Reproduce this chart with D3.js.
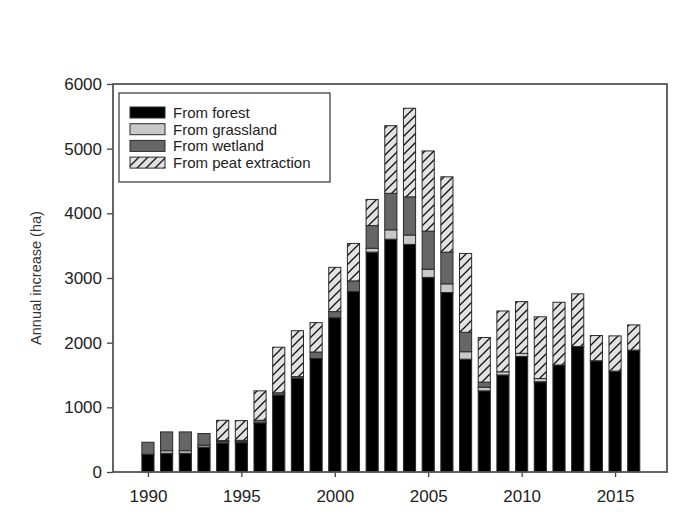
<!DOCTYPE html>
<html>
<head>
<meta charset="utf-8">
<script src="https://cdn.jsdelivr.net/npm/d3@7"></script>
<style>
  body { margin: 0; background: #fff; }
  svg { font-family: "Liberation Sans", Arial, sans-serif; }
</style>
</head>
<body>
<svg id="chart"></svg>
<script>
const years = d3.range(1990, 2017);
const forest = [275, 290, 290, 385, 450, 455, 760, 1190, 1450, 1755, 2385, 2790, 3400, 3600, 3520, 3010, 2775, 1745, 1255, 1500, 1785, 1395, 1655, 1940, 1720, 1560, 1885];
const grassland = [0, 40, 40, 30, 20, 20, 0, 0, 0, 0, 0, 0, 60, 145, 145, 125, 135, 115, 55, 50, 50, 50, 0, 0, 0, 0, 0];
const wetland = [185, 290, 290, 180, 15, 15, 40, 35, 25, 100, 95, 165, 350, 565, 590, 590, 490, 300, 80, 0, 0, 0, 0, 0, 0, 0, 0];
const peat = [0, 0, 0, 0, 315, 305, 455, 705, 710, 455, 685, 580, 405, 1045, 1370, 1240, 1165, 1220, 690, 940, 800, 955, 970, 815, 390, 545, 390];

const seriesKeys = ["forest", "grassland", "wetland", "peat"];
const seriesLabels = ["From forest", "From grassland", "From wetland", "From peat extraction"];
const yTicks = [0, 1000, 2000, 3000, 4000, 5000, 6000];
const xTicks = [1990, 1995, 2000, 2005, 2010, 2015];

const width = 698, height = 520;
const plotLeft = 113, plotRight = 667, plotTop = 84, plotBottom = 472;

const svg = d3.select("#chart").attr("width", width).attr("height", height);

// hatch pattern for peat extraction
const pat = svg.append("defs").append("pattern")
  .attr("id", "hatch")
  .attr("patternUnits", "userSpaceOnUse")
  .attr("width", 9).attr("height", 9);
pat.append("rect").attr("width", 9).attr("height", 9).attr("fill", "#e2e2e2");
pat.append("path")
  .attr("d", "M0,9 L9,0 M-2,2 L2,-2 M7,11 L11,7")
  .attr("stroke", "#111").attr("stroke-width", 1.3);

const fills = { forest: "#000", grassland: "#c8c8c8", wetland: "#666", peat: "url(#hatch)" };

const table = years.map((yr, i) => ({
  year: yr, forest: forest[i], grassland: grassland[i], wetland: wetland[i], peat: peat[i]
}));
const stacked = d3.stack().keys(seriesKeys)(table);

const x = d3.scaleLinear().domain([1988.13, 2017.78]).range([plotLeft, plotRight]);
const y = d3.scaleLinear().domain([0, 6000]).range([plotBottom, plotTop]);
const barW = (x(1991) - x(1990)) * 0.65;

svg.append("g")
  .selectAll("g")
  .data(stacked)
  .join("g")
  .attr("fill", d => fills[d.key])
  .selectAll("rect")
  .data(d => d.filter(s => s[1] - s[0] > 0))
  .join("rect")
  .attr("x", d => x(d.data.year) - barW / 2)
  .attr("y", d => y(d[1]))
  .attr("width", barW)
  .attr("height", d => y(d[0]) - y(d[1]))
  .attr("stroke", "#2a2a2a")
  .attr("stroke-width", 1);

// axes
const yAxis = d3.axisLeft(y).tickValues(yTicks).tickSize(6).tickPadding(5).tickFormat(d3.format("d"));
const xAxis = d3.axisBottom(x).tickValues(xTicks).tickSize(5).tickPadding(13).tickFormat(d3.format("d"));

svg.append("g")
  .attr("transform", `translate(${plotLeft},0)`)
  .call(yAxis)
  .call(g => g.select(".domain").remove())
  .call(g => g.selectAll("line").attr("stroke", "#444").attr("stroke-width", 1.3))
  .call(g => g.selectAll("text").attr("font-size", 17).attr("fill", "#222").attr("font-family", null));

svg.append("g")
  .attr("transform", `translate(0,${plotBottom})`)
  .call(xAxis)
  .call(g => g.select(".domain").remove())
  .call(g => g.selectAll("line").attr("stroke", "#444").attr("stroke-width", 1.3))
  .call(g => g.selectAll("text").attr("font-size", 17).attr("fill", "#222").attr("font-family", null));

// frame
svg.append("rect")
  .attr("x", plotLeft).attr("y", plotTop)
  .attr("width", plotRight - plotLeft).attr("height", plotBottom - plotTop)
  .attr("fill", "none").attr("stroke", "#555").attr("stroke-width", 1.8);

svg.append("text")
  .attr("transform", `translate(41,${(plotTop + plotBottom) / 2}) rotate(-90)`)
  .attr("text-anchor", "middle")
  .attr("font-size", 14.5)
  .attr("fill", "#333")
  .text("Annual increase (ha)");

// legend
const legend = svg.append("g");
legend.append("rect")
  .attr("x", 119).attr("y", 93).attr("width", 211).attr("height", 89)
  .attr("fill", "#fff").attr("stroke", "#333").attr("stroke-width", 1.2);

const rows = legend.selectAll("g.row")
  .data(seriesKeys)
  .join("g")
  .attr("class", "row")
  .attr("transform", (d, i) => `translate(130,${107 + i * 16.7})`);
rows.append("rect")
  .attr("width", 35).attr("height", 11)
  .attr("fill", d => fills[d])
  .attr("stroke", "#2a2a2a").attr("stroke-width", 1);
rows.append("text")
  .attr("x", 43).attr("y", 11)
  .attr("font-size", 15)
  .attr("fill", "#222")
  .text((d, i) => seriesLabels[i]);
</script>
</body>
</html>
